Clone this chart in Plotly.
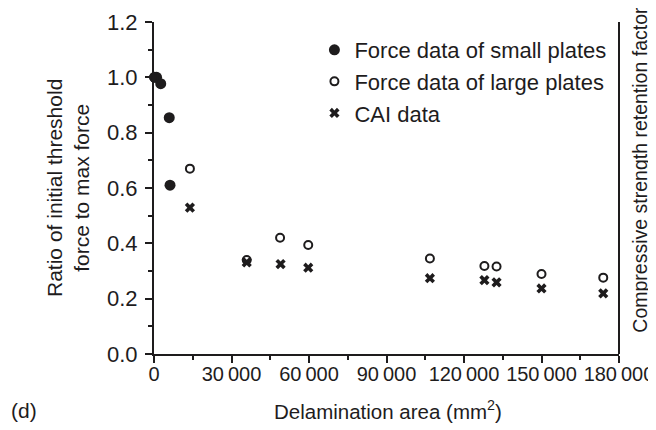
import plotly.graph_objects as go

# Force data of small plates
small_x = [300, 1000, 2600, 5900, 6200]
small_y = [1.0, 1.0, 0.977, 0.854, 0.61]

# Force data of large plates
large_x = [0, 13900, 35900, 48800, 59700, 106800, 127900, 132600, 150000, 173900]
large_y = [1.0, 0.67, 0.34, 0.42, 0.394, 0.345, 0.318, 0.316, 0.289, 0.276]

# CAI data
cai_x = [13900, 35900, 49000, 59700, 106800, 127900, 132600, 150000, 173900]
cai_y = [0.529, 0.331, 0.325, 0.312, 0.274, 0.267, 0.259, 0.237, 0.219]

x_tickvals = [0, 30000, 60000, 90000, 120000, 150000, 180000]
x_ticktext = ["0", "30\u2009000", "60\u2009000", "90\u2009000", "120\u2009000", "150\u2009000", "180\u2009000"]

INK = "#1e1c1d"
FONT = "Liberation Sans, Arial, sans-serif"

fig = go.Figure()

fig.add_trace(go.Scatter(
    x=small_x, y=small_y, mode="markers", name="Force data of small plates",
    marker=dict(symbol="circle", size=11, color=INK), cliponaxis=False,
))
fig.add_trace(go.Scatter(
    x=large_x, y=large_y, mode="markers", name="Force data of large plates",
    marker=dict(symbol="circle-open", size=8, color=INK, line=dict(width=2, color=INK)),
    cliponaxis=False,
))
fig.add_trace(go.Scatter(
    x=cai_x, y=cai_y, mode="markers", name="CAI data",
    marker=dict(symbol="x", size=9, color=INK, line=dict(width=0)), cliponaxis=False,
))

# page body adds an 8px offset, so margins are shifted to compensate
fig.update_layout(
    width=656, height=430,
    margin=dict(l=146, r=45, t=14, b=84, autoexpand=False),
    plot_bgcolor="white", paper_bgcolor="white",
    font=dict(family=FONT, size=21, color=INK),
    showlegend=True,
    legend=dict(
        x=0.345, y=0.979, xanchor="left", yanchor="top",
        font=dict(size=22, color=INK), bgcolor="rgba(0,0,0,0)",
        tracegroupgap=0, itemwidth=30,
    ),
    xaxis=dict(
        range=[0, 180000], tickvals=x_tickvals, ticktext=x_ticktext,
        showline=True, linecolor=INK, linewidth=2, mirror=False,
        ticks="outside", ticklen=7, tickwidth=1.5, tickcolor=INK,
        minor=dict(dtick=15000, ticks="outside", ticklen=4, tickwidth=1.5, tickcolor=INK),
        showgrid=False, zeroline=False, automargin=False,
        tickfont=dict(size=20), ticklabeloverflow="allow", ticklabelstandoff=-6,
    ),
    yaxis=dict(
        range=[0, 1.2], dtick=0.2, tickformat=".1f",
        showline=True, linecolor=INK, linewidth=2,
        ticks="outside", ticklen=7, tickwidth=1.5, tickcolor=INK,
        minor=dict(dtick=0.1, ticks="outside", ticklen=4, tickwidth=1.5, tickcolor=INK),
        showgrid=False, zeroline=False, automargin=False,
        tickfont=dict(size=22), ticklabelstandoff=3,
    ),
    shapes=[dict(type="line", xref="paper", yref="paper", x0=1, x1=1, y0=0, y1=1,
                 line=dict(color=INK, width=2))],
    annotations=[
        dict(text="Ratio of initial threshold<br>force to max force", xref="paper", yref="paper",
             x=-0.185, y=0.5, xanchor="center", yanchor="middle", textangle=-90,
             showarrow=False, font=dict(size=21)),
        dict(text="Compressive strength retention factor", xref="paper", yref="paper",
             x=1.045, y=0.555, xanchor="center", yanchor="middle", textangle=-90,
             showarrow=False, font=dict(size=19.5)),
        dict(text="Delamination area (mm<sup>2</sup>)", xref="paper", yref="paper",
             x=0.503, y=-0.169, xanchor="center", yanchor="middle",
             showarrow=False, font=dict(size=20.5)),
        dict(text="(d)", xref="paper", x=-0.312, yref="paper", y=-0.169,
             xanchor="left", yanchor="middle", showarrow=False, font=dict(size=21)),
    ],
)

fig.write_html("out.html")
